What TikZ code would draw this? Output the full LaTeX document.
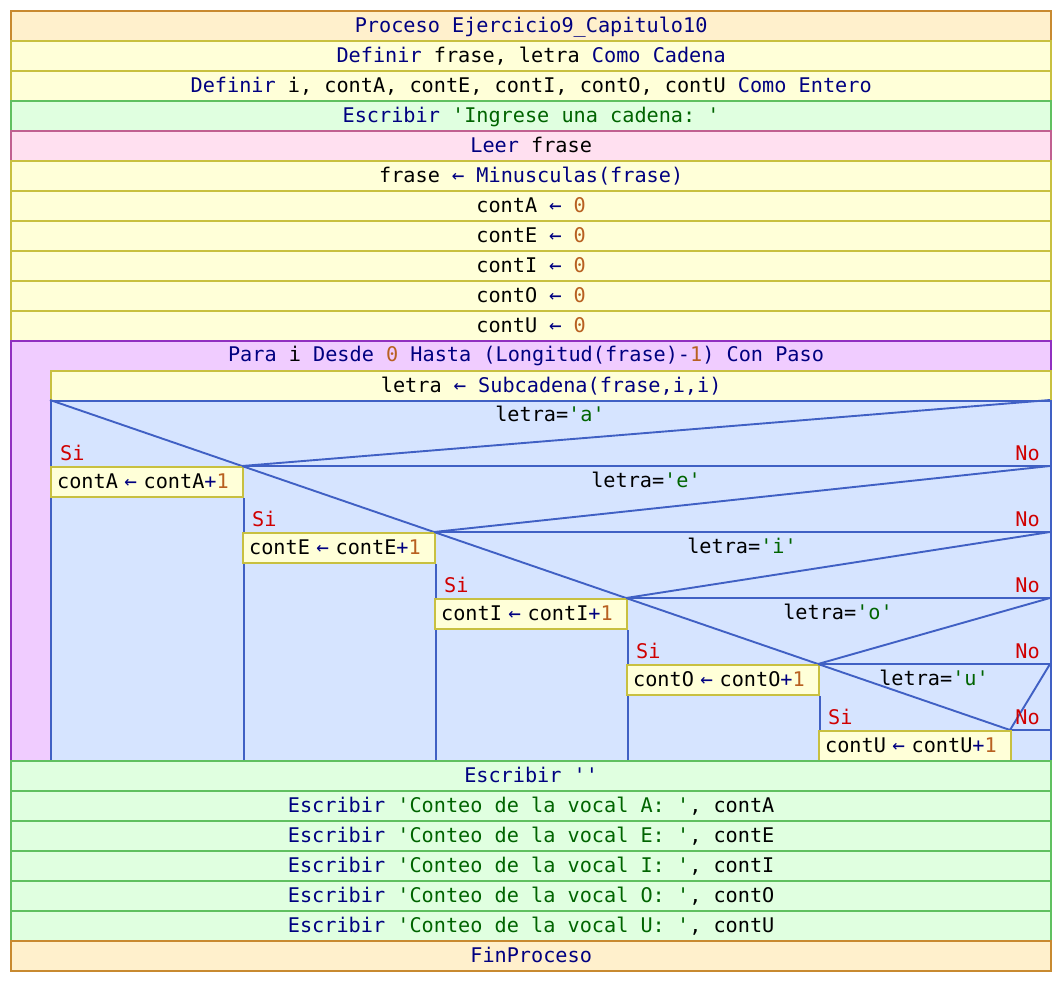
\documentclass[tikz,border=0pt]{standalone}
\usepackage{fontspec}
\setmonofont{DejaVu Sans Mono}

% block colours
\definecolor{prcF}{HTML}{FFF0CC}\definecolor{prcD}{HTML}{C88A30}
\definecolor{asgF}{HTML}{FFFFD8}\definecolor{asgD}{HTML}{C8C040}
\definecolor{outF}{HTML}{E0FFE0}\definecolor{outD}{HTML}{60C060}
\definecolor{inF}{HTML}{FFE0F0}\definecolor{inD}{HTML}{C06090}
\definecolor{forF}{HTML}{F0CCFF}\definecolor{forD}{HTML}{9030C0}
\definecolor{ifF}{HTML}{D6E4FF}\definecolor{ifD}{HTML}{4060C4}
% syntax colours
\definecolor{kwc}{HTML}{000080}
\definecolor{strc}{HTML}{006400}
\definecolor{numc}{HTML}{B86020}
\definecolor{brc}{HTML}{D00000}

\newcommand\kw[1]{\textcolor{kwc}{#1}}
\newcommand\st[1]{\textcolor{strc}{#1}}
\newcommand\nm[1]{\textcolor{numc}{#1}}
\newcommand\asg{\makebox[12.2pt]{\textcolor{kwc}{\fontsize{21}{21}\selectfont ←}}}

\tikzset{
  blk/.style={anchor=north west, minimum width=#1, minimum height=30pt,
    inner sep=0pt, line width=2.3pt, text height=16pt, text depth=4pt},
  procbox/.style={blk=1040pt, fill=prcF, draw=prcD},
  asgbox/.style={blk=#1, fill=asgF, draw=asgD},
  outbox/.style={blk=1040pt, fill=outF, draw=outD},
  inbox/.style={blk=1040pt, fill=inF, draw=inD},
  ifline/.style={draw=ifD, line width=1.9pt},
  ifedge/.style={draw=ifD, line width=2.3pt},
  branch/.style={text=brc, inner sep=0pt},
  cond/.style={anchor=base, inner sep=0pt},
  incbox/.style={anchor=north west, minimum height=30pt, text width=180pt,
    align=left, inner xsep=6pt, inner ysep=0pt, line width=2.3pt,
    text height=16pt, text depth=4pt, fill=asgF, draw=asgD}
}

\begin{document}
\begin{tikzpicture}[x=1pt,y=-1pt,font=\ttfamily\fontsize{20.2}{24}\selectfont]
\useasboundingbox[fill=white] (0,0) rectangle (1060,980);

% header and declarations
\node[procbox] (p0) at (10,10) {\kw{Proceso Ejercicio9\_Capitulo10}};
\node[asgbox=1040pt] (d1) at (10,40) {\kw{Definir} frase, letra \kw{Como Cadena}};
\node[asgbox=1040pt] (d2) at (10,70) {\kw{Definir} i, contA, contE, contI, contO, contU \kw{Como Entero}};
\node[outbox] (w1) at (10,100) {\kw{Escribir} \st{'Ingrese una cadena: '}};
\node[inbox] (r1) at (10,130) {\kw{Leer} frase};
\node[asgbox=1040pt] (a1) at (10,160) {frase \asg{} \kw{Minusculas(frase)}};
\node[asgbox=1040pt] (a2) at (10,190) {contA \asg{} \nm{0}};
\node[asgbox=1040pt] (a3) at (10,220) {contE \asg{} \nm{0}};
\node[asgbox=1040pt] (a4) at (10,250) {contI \asg{} \nm{0}};
\node[asgbox=1040pt] (a5) at (10,280) {contO \asg{} \nm{0}};
\node[asgbox=1040pt] (a6) at (10,310) {contU \asg{} \nm{0}};

% for loop
\node[anchor=north west, minimum width=1040pt, minimum height=420pt,
      inner sep=0pt, line width=2.3pt, fill=forF, draw=forD] (loop) at (10,340) {};
\node[anchor=base, inner sep=0pt] (looph) at (526,361)
  {\kw{Para} i \kw{Desde} \nm{0} \kw{Hasta (Longitud(frase)-}\nm{1}\kw{) Con Paso}};
\node[asgbox=1000pt] (sub) at (50,370) {letra \asg{} \kw{Subcadena(frase,i,i)}};

% nested decisions
\node[anchor=north west, minimum width=1000pt, minimum height=360pt,
      inner sep=0pt, line width=2.3pt, fill=ifF, draw=ifD] (dec) at (50,400) {};

\foreach \k/\v/\V in {0/a/A,1/e/E,2/i/I,3/o/O,4/u/U}{
  \pgfmathsetmacro{\xl}{50+192*\k}
  \pgfmathsetmacro{\xr}{\xl+192}
  \pgfmathsetmacro{\yt}{400+66*\k}
  \pgfmathsetmacro{\yb}{\yt+66}
  \pgfmathsetmacro{\xc}{(\xl+1050)/2}
  \coordinate (c\k tl) at (\xl,\yt);
  \coordinate (c\k tr) at (1050,\yt);
  \coordinate (c\k m)  at (\xr,\yb);
  \coordinate (c\k bl) at (\xl,\yb);
  \coordinate (c\k br) at (1050,\yb);
  \draw[ifline] (c\k tl) -- (c\k m) -- (c\k tr);
  \draw[ifedge] (c\k m) -- (c\k br);
  \node[cond] (q\k) at (\xc,\yt+21) {letra=\st{'\v'}};
  \node[branch, anchor=base west] (si\k) at (\xl+10,\yb-6) {Si};
  \node[branch, anchor=base east] (no\k) at (1040,\yb-6) {No};
  \node[incbox] (s\k) at (c\k bl) {cont\V{} \asg{} cont\V\kw{+}\nm{1}};
  \draw[ifedge] (s\k.south east) -- (s\k.south east |- dec.south);
}

% output and end
\node[outbox] (w2) at (10,760) {\kw{Escribir ''}};
\node[outbox] (w3) at (10,790) {\kw{Escribir} \st{'Conteo de la vocal A: '}, contA};
\node[outbox] (w4) at (10,820) {\kw{Escribir} \st{'Conteo de la vocal E: '}, contE};
\node[outbox] (w5) at (10,850) {\kw{Escribir} \st{'Conteo de la vocal I: '}, contI};
\node[outbox] (w6) at (10,880) {\kw{Escribir} \st{'Conteo de la vocal O: '}, contO};
\node[outbox] (w7) at (10,910) {\kw{Escribir} \st{'Conteo de la vocal U: '}, contU};
\node[procbox] (p1) at (10,940) {\kw{FinProceso}};
\end{tikzpicture}
\end{document}
